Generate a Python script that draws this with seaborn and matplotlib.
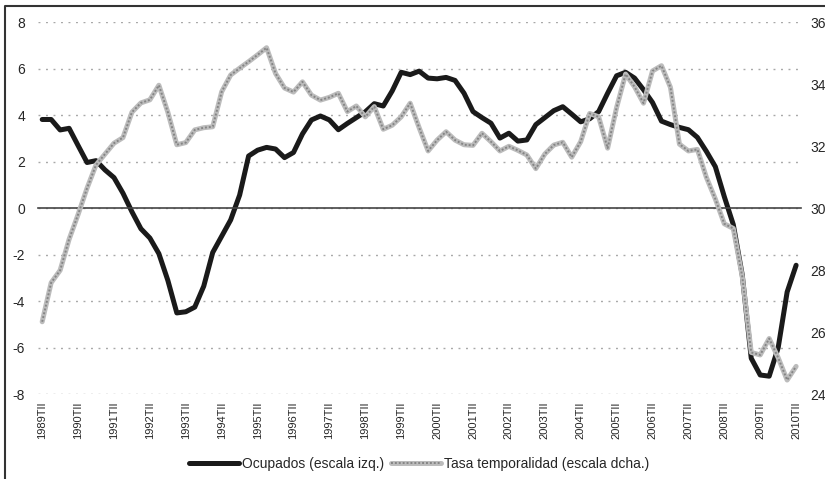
import numpy as np
import pandas as pd
import matplotlib.pyplot as plt
from matplotlib.lines import Line2D
from matplotlib.legend_handler import HandlerTuple
import seaborn as sns

sns.set_style('white')
plt.rcParams['font.family'] = ['Liberation Sans', 'DejaVu Sans']
plt.rcParams['axes.unicode_minus'] = False

# trimestres 1989TII .. 2010TII
years = list(range(1989, 2011))
quarters = [f'{y}T{q}' for y in years for q in ['I', 'II', 'III', 'IV']][1:86]

# Ocupados, tasa de variación (escala izq.)
ocupados = [3.82, 3.82, 3.37, 3.44, 2.70, 1.97, 2.05, 1.65, 1.32, 0.65,
            -0.15, -0.88, -1.28, -1.95, -3.10, -4.50, -4.45, -4.25, -3.35, -1.90,
            -1.20, -0.50, 0.57, 2.25, 2.50, 2.62, 2.55, 2.18, 2.40, 3.20,
            3.80, 3.97, 3.80, 3.38, 3.65, 3.90, 4.15, 4.50, 4.40, 5.05,
            5.85, 5.75, 5.90, 5.60, 5.57, 5.63, 5.50, 4.95, 4.16, 3.90,
            3.66, 3.02, 3.23, 2.89, 2.94, 3.60, 3.90, 4.20, 4.37, 4.05,
            3.72, 3.85, 4.16, 4.95, 5.70, 5.85, 5.60, 5.10, 4.55, 3.75,
            3.60, 3.48, 3.38, 3.05, 2.45, 1.79, 0.50, -0.70, -2.87, -6.45,
            -7.17, -7.22, -6.00, -3.60, -2.45]

# Tasa de temporalidad (escala dcha.)
temporalidad = [26.34, 27.60, 28.00, 29.00, 29.80, 30.65, 31.40, 31.75, 32.10, 32.28,
                33.10, 33.40, 33.50, 33.97, 33.10, 32.05, 32.12, 32.53, 32.60, 32.63,
                33.76, 34.30, 34.52, 34.73, 34.95, 35.18, 34.35, 33.88, 33.75, 34.08,
                33.65, 33.49, 33.58, 33.71, 33.12, 33.30, 32.95, 33.28, 32.55, 32.68,
                32.95, 33.39, 32.60, 31.85, 32.20, 32.47, 32.20, 32.05, 32.03, 32.42,
                32.15, 31.85, 32.00, 31.87, 31.72, 31.28, 31.75, 32.04, 32.13, 31.65,
                32.15, 33.06, 32.95, 31.94, 33.25, 34.33, 33.92, 33.39, 34.43, 34.60,
                33.90, 32.07, 31.85, 31.90, 31.00, 30.30, 29.50, 29.35, 27.80, 25.35,
                25.27, 25.80, 25.18, 24.46, 24.90]

labels = ['Ocupados (escala izq.)', 'Tasa temporalidad (escala dcha.)']

df = pd.DataFrame({'pos': range(len(quarters)), 'trimestre': quarters,
                   'ocupados': ocupados, 'temporalidad': temporalidad})

black = '#1a1a1a'
gray_base = '#bcbcbc'
gray_dots = '#858585'
txt = '#262626'

W, H = 825, 479
fig = plt.figure(figsize=(W / 100, H / 100), dpi=100)
ax = fig.add_axes([37.7 / W, 1 - 394.3 / H, (800.6 - 37.7) / W, (394.3 - 22.3) / H])

sns.lineplot(data=df, x='pos', y='ocupados', ax=ax, color=black, lw=3.6)

ax2 = ax.twinx()
sns.lineplot(data=df, x='pos', y='temporalidad', ax=ax2, color=gray_base, lw=3.6)
sns.lineplot(data=df, x='pos', y='temporalidad', ax=ax2, color=gray_dots, lw=1.4,
             ls=(0, (1, 1)))

ax.set_xlim(-0.5, len(quarters) - 0.5)
ax.set_ylim(-8, 8)
ax2.set_ylim(24, 36)
ax.set_yticks(range(-8, 9, 2))
ax2.set_yticks(range(24, 37, 2))
for a in (ax, ax2):
    a.set_xlabel('')
    a.set_ylabel('')

# eje de categorías sobre el cero
for s in ['left', 'right', 'top']:
    ax.spines[s].set_visible(False)
for s in ax2.spines.values():
    s.set_visible(False)
ax.spines['bottom'].set_position(('data', 0))
ax.spines['bottom'].set_color('#444444')
ax.spines['bottom'].set_linewidth(1.2)
ax.set_xticks(np.arange(-0.5, len(quarters) - 1, 4))
ax.tick_params(axis='x', direction='inout', length=3.6, width=1, color='#444444',
               labelbottom=False)
ax.tick_params(axis='y', length=0, pad=9, labelsize=10, labelcolor=txt)
ax2.tick_params(axis='y', length=0, pad=7.2, labelsize=10, labelcolor=txt)

sec = ax.secondary_xaxis('bottom')
sec.set_xticks(range(0, len(quarters), 4), labels=quarters[::4])
sec.tick_params(length=0, pad=5.5, labelsize=8, labelrotation=90, labelcolor=txt)
sec.spines['bottom'].set_visible(False)

ax.set_axisbelow(True)
ax.grid(axis='y', color='#a8a8a8', lw=1, ls=(0, (1.4, 4)))

h1 = Line2D([], [], color=black, lw=3.6)
h2 = (Line2D([], [], color=gray_base, lw=3.6),
      Line2D([], [], color=gray_dots, lw=1.4, ls=(0, (1, 1))))
fig.legend([h1, h2], labels, handler_map={tuple: HandlerTuple(ndivide=1)},
           loc='center', bbox_to_anchor=(419 / W, 1 - 464 / H), ncol=2,
           frameon=False, fontsize=10, handlelength=3.6, handletextpad=0.2,
           columnspacing=0.5, labelcolor=txt)

# marco del gráfico
fig.add_artist(Line2D([5 / W, 5 / W, 1.0], [0, 1 - 5.5 / H, 1 - 5.5 / H],
                      transform=fig.transFigure, color='#333333', lw=1.5))

fig.savefig('out.png', dpi=100)
